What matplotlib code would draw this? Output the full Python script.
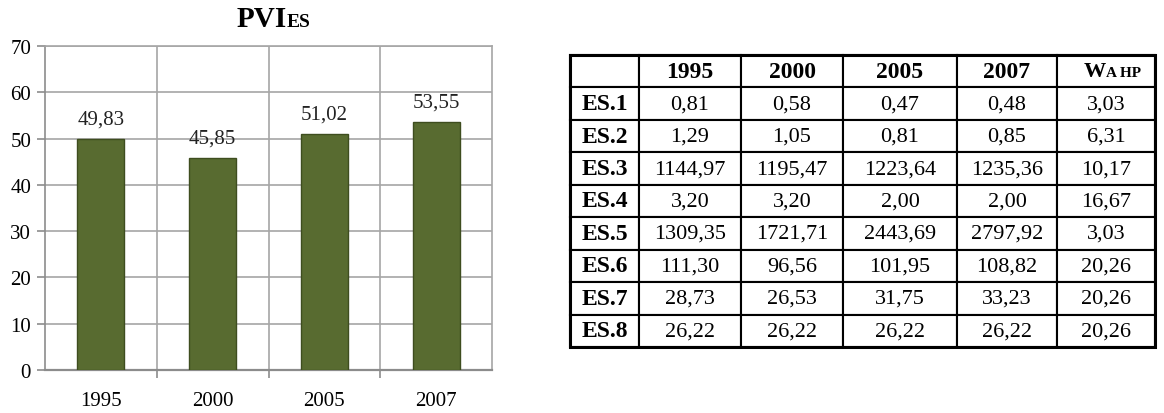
import matplotlib.pyplot as plt
import numpy as np

plt.rcParams['font.family'] = ['Liberation Serif', 'DejaVu Serif']

# chart data
years = ['1995', '2000', '2005', '2007']
pvi_es = [49.83, 45.85, 51.02, 53.55]
bar_labels = ['49,83', '45,85', '51,02', '53,55']

# table data
col_labels = ['1995', '2000', '2005', '2007']
row_labels = ['ES.1', 'ES.2', 'ES.3', 'ES.4', 'ES.5', 'ES.6', 'ES.7', 'ES.8']
col_1995 = ['0,81', '1,29', '1144,97', '3,20', '1309,35', '111,30', '28,73', '26,22']
col_2000 = ['0,58', '1,05', '1195,47', '3,20', '1721,71', '96,56', '26,53', '26,22']
col_2005 = ['0,47', '0,81', '1223,64', '2,00', '2443,69', '101,95', '31,75', '26,22']
col_2007 = ['0,48', '0,85', '1235,36', '2,00', '2797,92', '108,82', '33,23', '26,22']
w_ahp = ['3,03', '6,31', '10,17', '16,67', '3,03', '20,26', '20,26', '20,26']

W, H = 1164, 414
fig = plt.figure(figsize=(W / 100, H / 100), dpi=100)

#bar chart
ax = fig.add_axes([45 / W, 1 - 371 / H, (492 - 45) / W, (371 - 47) / H])
x = np.arange(len(years))
ax.bar(x, pvi_es, width=0.42, color='#586B30', edgecolor='#3E4D1F', linewidth=1.0, zorder=3)
for xi, v, lab in zip(x, pvi_es, bar_labels):
    ax.text(xi, v + 2.3, lab, ha='center', va='bottom', fontsize=15, color='#222222')

ax.set_xlim(-0.5, 3.5)
ax.set_ylim(0, 70)
ax.set_yticks(range(0, 71, 10))
ax.set_xticks(x)
ax.set_xticklabels(years)
ax.set_xticks(x[:-1] + 0.5, minor=True)
ax.tick_params(axis='x', which='major', length=0, pad=15, labelsize=15)
ax.tick_params(axis='x', which='minor', length=6, color='#8C8C8C', width=1.2)
ax.tick_params(axis='y', length=6, color='#8C8C8C', width=1.2, labelsize=15, pad=4)
ax.grid(axis='y', color='#A6A6A6', linewidth=1.2, zorder=0)
ax.grid(axis='x', which='minor', color='#A6A6A6', linewidth=1.2, zorder=0)
for s in ax.spines.values():
    s.set_color('#A6A6A6')
    s.set_linewidth(1.2)
ax.spines['left'].set_color('#8C8C8C')
ax.spines['bottom'].set_color('#8C8C8C')
ax.spines['bottom'].set_linewidth(1.6)

# title PVI + small ES
fig.text(287 / W, 1 - 27 / H, 'PVI', ha='right', va='baseline', fontsize=21, fontweight='bold')
fig.text(287 / W, 1 - 27 / H, 'ES', ha='left', va='baseline', fontsize=14, fontweight='bold')

# table
tx0, tx1, ty0, ty1 = 570, 1155, 56, 348
tab_ax = fig.add_axes([tx0 / W, 1 - ty1 / H, (tx1 - tx0) / W, (ty1 - ty0) / H])
tab_ax.axis('off')
col_w = np.array([69, 102, 102, 114, 100, 98], dtype=float)
col_w = col_w / col_w.sum()

cells = [[''] + col_labels + ['']]
for i, r in enumerate(row_labels):
    cells.append([r, col_1995[i], col_2000[i], col_2005[i], col_2007[i], w_ahp[i]])

tbl = tab_ax.table(cellText=cells, colWidths=list(col_w), bbox=[0, 0, 1, 1], cellLoc='center')
tbl.auto_set_font_size(False)
for (r, c), cell in tbl.get_celld().items():
    cell.set_edgecolor('black')
    cell.set_linewidth(1.5)
    txt = cell.get_text()
    txt.set_fontsize(16)
    if r == 0 or c == 0:
        txt.set_fontweight('bold')
        txt.set_fontsize(17)

# W AHP header cell
cx = col_w[:-1].sum() + col_w[-1] / 2
cy = 1 - 0.5 / 9
tab_ax.text(cx, cy, 'W', ha='right', va='center', fontsize=16, fontweight='bold', transform=tab_ax.transAxes)
tab_ax.text(cx, cy - 0.004, 'A HP', ha='left', va='center', fontsize=11, fontweight='bold', transform=tab_ax.transAxes)
# outer border
tab_ax.add_patch(plt.Rectangle((0, 0), 1, 1, fill=False, lw=2.2, ec='black', transform=tab_ax.transAxes, clip_on=False))

fig.savefig('out.png', dpi=100)
